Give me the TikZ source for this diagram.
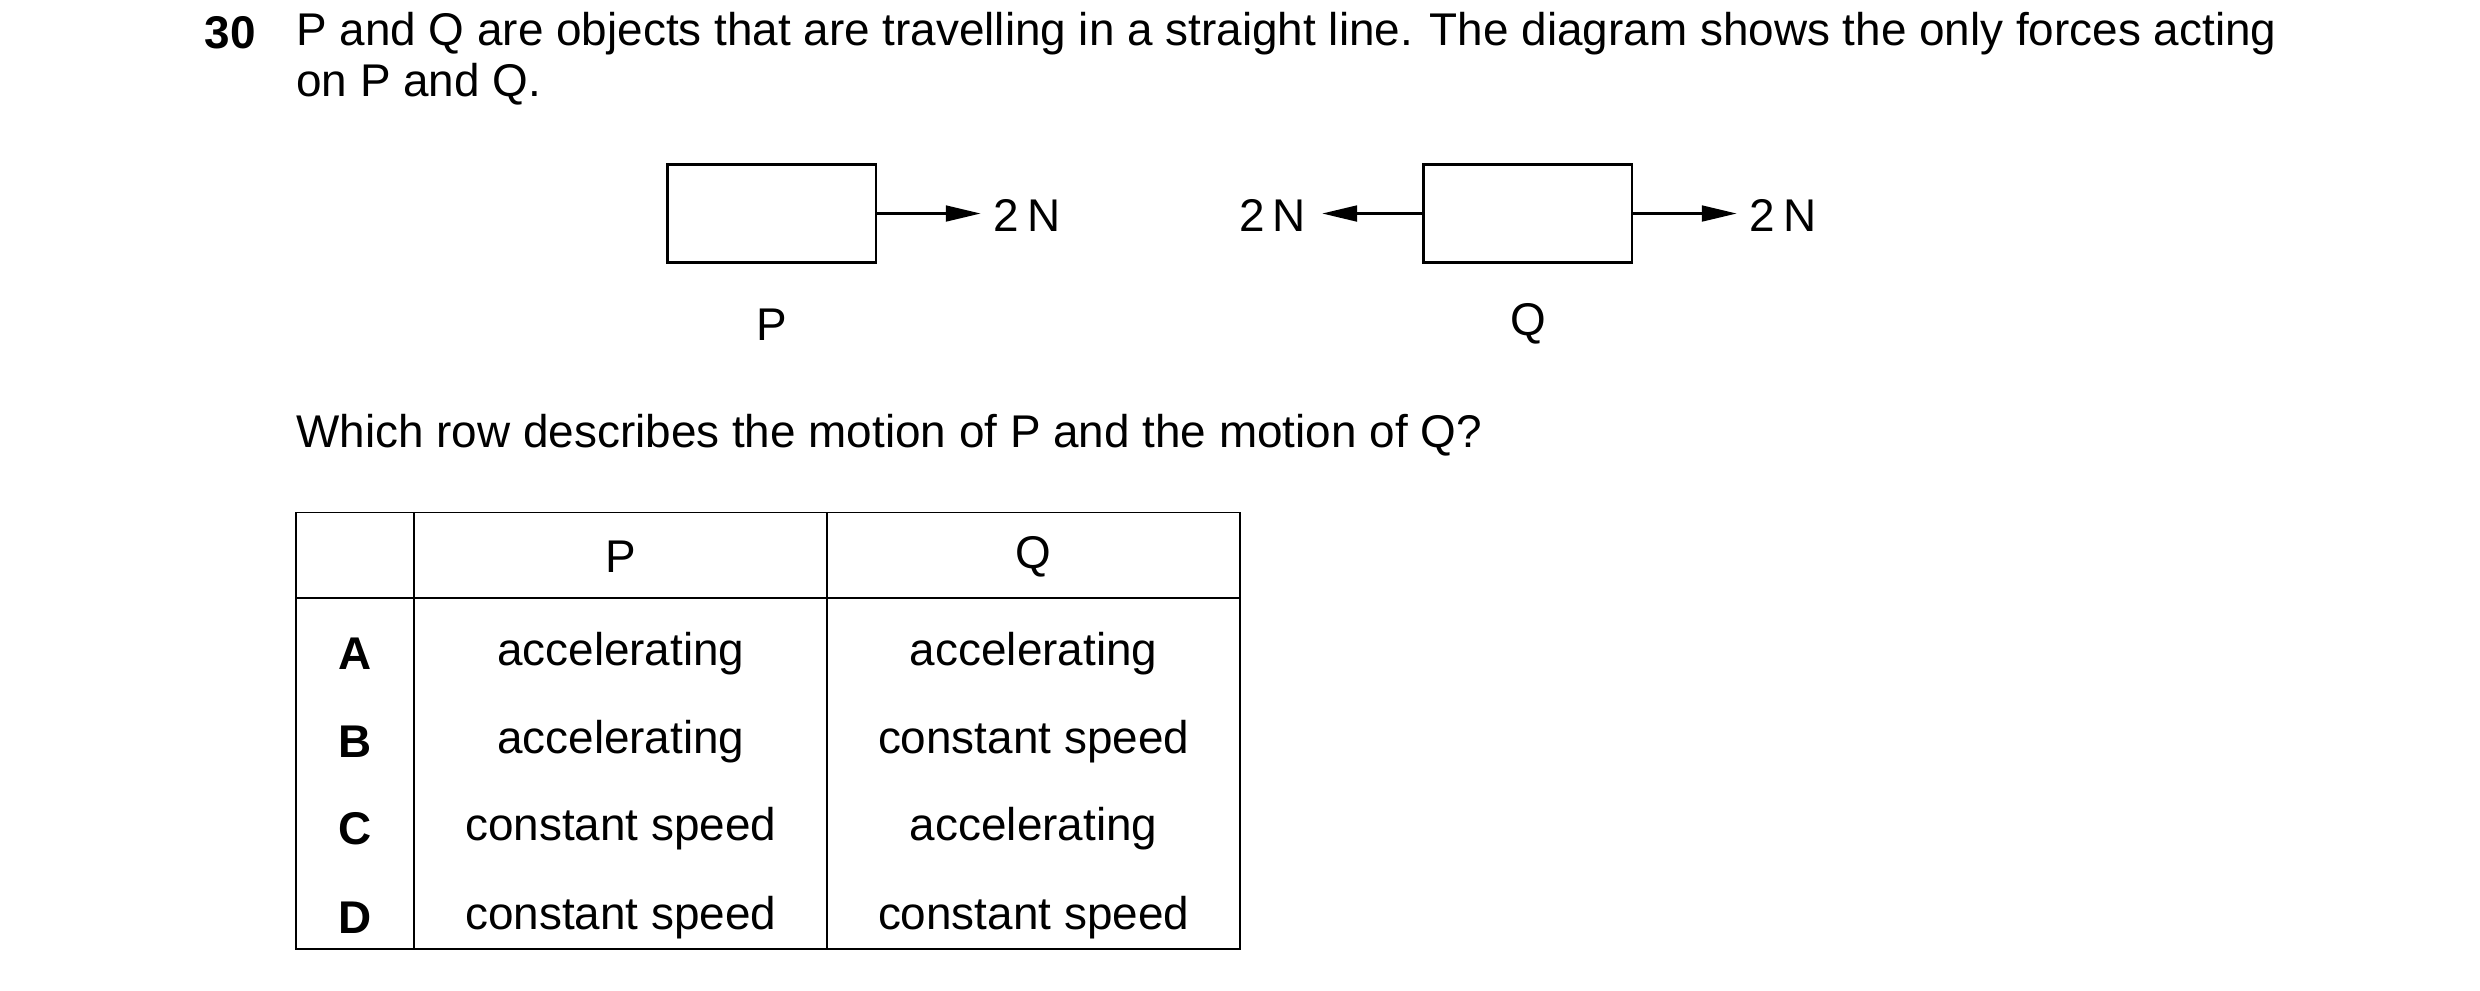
\documentclass[tikz,border=0pt]{standalone}
\usepackage{fontspec}
\setmainfont{Liberation Sans}
\usetikzlibrary{arrows.meta,positioning}
\tikzset{
  txt/.style={inner sep=0pt,font=\fontsize{14.5}{17}\selectfont},
  obj/.style={draw,line width=0.75pt,minimum width=66pt,minimum height=31pt,inner sep=0pt},
  force/.style={line width=0.75pt,-{Triangle[length=11pt,width=5pt]}},
  grid/.style={line width=0.6pt}
}
\begin{document}
\begin{tikzpicture}[x=0.5pt,y=0.5pt,yscale=-1,xscale=1]
\useasboundingbox (0,0) rectangle (1568,626);

% Question text
\draw (162,21) node [txt,anchor=east,font=\fontsize{14.5}{17}\selectfont\bfseries] (num) {30};
\draw (187,21) node [txt,anchor=west] (q1) {P and Q are objects that are travelling in a straight line. The diagram shows the only forces acting};
\draw (187,53) node [txt,anchor=west] (q2) {on P and Q.};

% Object P
\node [obj] (boxP) at (488,135) {};
\coordinate (tipP) at (620,135);
\draw [force] (boxP.east) -- (tipP);
\node [txt,anchor=west] (fP) at (628,136) {2\,N};
\node [txt] (labP) at (488,205) {P};

% Object Q
\node [obj] (boxQ) at (966,135) {};
\coordinate (tipQl) at (836,135);
\coordinate (tipQr) at (1098,135);
\draw [force] (boxQ.west) -- (tipQl);
\draw [force] (boxQ.east) -- (tipQr);
\node [txt,anchor=east] (fQl) at (826,136) {2\,N};
\node [txt,anchor=west] (fQr) at (1106,136) {2\,N};
\node [txt] (labQ) at (966,205) {Q};

\draw (187,275) node [txt,anchor=west] (ask) {Which row describes the motion of P and the motion of Q?};

% Table
\draw [grid] (187,324) rectangle (784,600);
\draw [grid] (187,378) -- (784,378);
\draw [grid] (262,324) -- (262,600);
\draw [grid] (523,324) -- (523,600);

\node [txt] (hP) at (392.5,352) {P};
\node [txt] (hQ) at (653.5,352) {Q};
\foreach \r/\y/\p/\q in {A/413/accelerating/accelerating,
                         B/469/accelerating/constant speed,
                         C/524/constant speed/accelerating,
                         D/580/constant speed/constant speed}{
  \node [txt,font=\fontsize{14.5}{17}\selectfont\bfseries] (row\r) at (224.5,\y) {\r};
  \node [txt] (p\r) at (392.5,\y) {\p};
  \node [txt] (q\r) at (653.5,\y) {\q};
}

\end{tikzpicture}
\end{document}
